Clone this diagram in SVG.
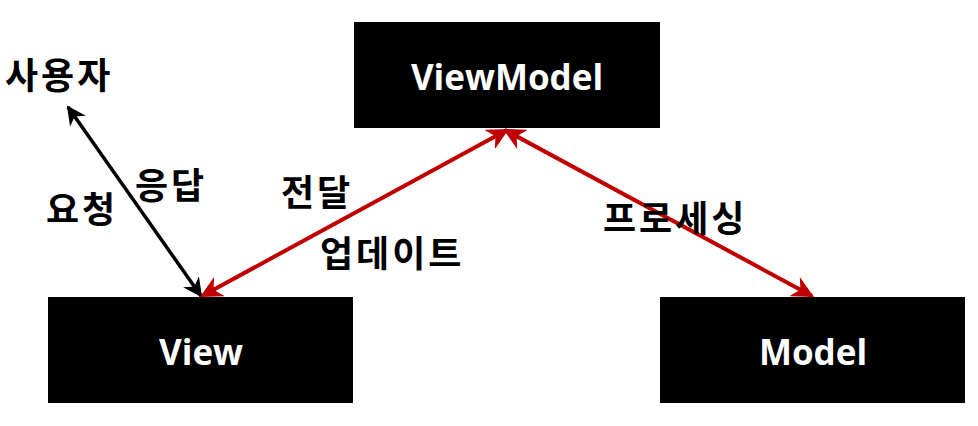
<svg xmlns="http://www.w3.org/2000/svg" width="978" height="426" viewBox="0 0 978 426">
<style>
.box{fill:#000}
.bt{fill:#fff;font-family:"Open Sans","Noto Sans",sans-serif;font-weight:bold;font-size:35px;text-anchor:middle}
.lb{fill:#000;font-family:"Noto Sans CJK KR",sans-serif;font-weight:bold;font-size:36px;letter-spacing:3px}
.blk{stroke:#000;stroke-width:3.5;fill:none}
.red{stroke:#C00000;stroke-width:4;fill:none}
</style>
<defs>
<marker id="ab" viewBox="0 0 10 10" refX="9" refY="5" markerWidth="5.5" markerHeight="5.5" orient="auto-start-reverse" markerUnits="strokeWidth"><path d="M0,0L10,5L0,10L3,5z" fill="#000"/></marker>
<marker id="ar" viewBox="0 0 10 10" refX="9" refY="5" markerWidth="5.5" markerHeight="5.5" orient="auto-start-reverse" markerUnits="strokeWidth"><path d="M0,0L10,5L0,10L3,5z" fill="#C00000"/></marker>
</defs>
<g id="viewmodel"><rect class="box" x="354" y="22" width="306" height="106"/><text class="bt" x="507" y="90">ViewModel</text></g>
<g id="view"><rect class="box" x="48" y="297" width="305" height="106"/><text class="bt" x="201" y="365">View</text></g>
<g id="model"><rect class="box" x="660" y="297" width="305" height="106"/><text class="bt" x="813" y="365">Model</text></g>
<g id="user"><text class="lb" x="5" y="89">사용자</text></g>
<g id="connectors">
<line class="blk" x1="68" y1="107" x2="201" y2="296" marker-start="url(#ab)" marker-end="url(#ab)"/>
<line class="red" x1="507" y1="130" x2="202" y2="296" marker-start="url(#ar)" marker-end="url(#ar)"/>
<line class="red" x1="505" y1="130" x2="812" y2="296" marker-start="url(#ar)" marker-end="url(#ar)"/>
</g>
<g id="labels">
<text class="lb" x="46" y="223">요청</text>
<text class="lb" x="135" y="199">응답</text>
<text class="lb" x="281" y="206">전달</text>
<text class="lb" x="320" y="267">업데이트</text>
<text class="lb" x="603" y="232">프로세싱</text>
</g>
</svg>
